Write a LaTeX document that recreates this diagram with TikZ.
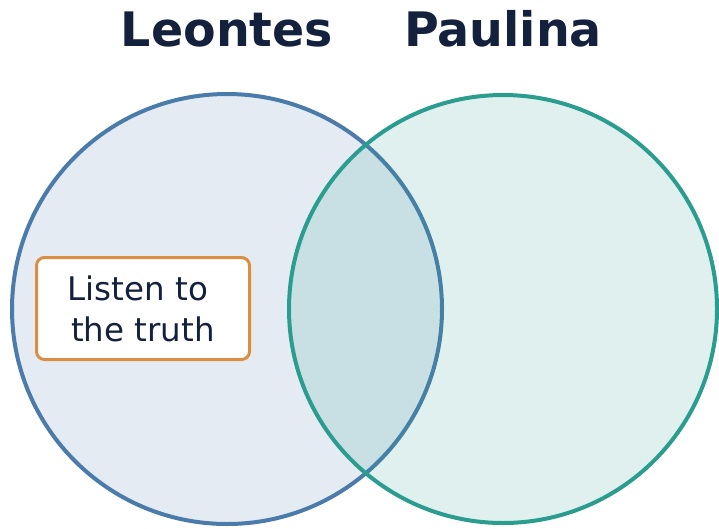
\documentclass[tikz,border=0pt]{standalone}
\usepackage{fontspec}
\setmainfont{DejaVu Sans}
\definecolor{navy}{HTML}{14213D}
\definecolor{leontesblue}{HTML}{4A7BAA}
\definecolor{paulinateal}{HTML}{2A9D8F}
\definecolor{traitorange}{HTML}{D98E42}
\begin{document}
\begin{tikzpicture}[x=1pt,y=-1pt,line join=round,line cap=round]
	\tikzset{title/.style={font=\fontsize{47.5}{56}\selectfont\bfseries,text=navy,anchor=base},
		set/.style={line width=4pt,fill opacity=0.15},
		trait/.style={draw=traitorange,line width=3pt,fill=white,rounded corners=8pt,
			minimum width=213pt,minimum height=102pt,align=center,text=navy,
			font=\fontsize{32.5}{41}\selectfont}}
	\useasboundingbox (0,0) rectangle (719,528);
	% the two sets
	\draw[set,draw=leontesblue,fill=leontesblue] (227,309) circle (215pt);
	\draw[set,draw=paulinateal,fill=paulinateal] (503,309) circle (214pt);
	\node[title] (leontes) at (227,46) {Leontes};
	\node[title] (paulina) at (503,46) {Paulina};
	% Leontes only
	\node[trait] (listen) at (143,308.5) {Listen to\kern0.32em\\the truth};
\end{tikzpicture}
\end{document}
